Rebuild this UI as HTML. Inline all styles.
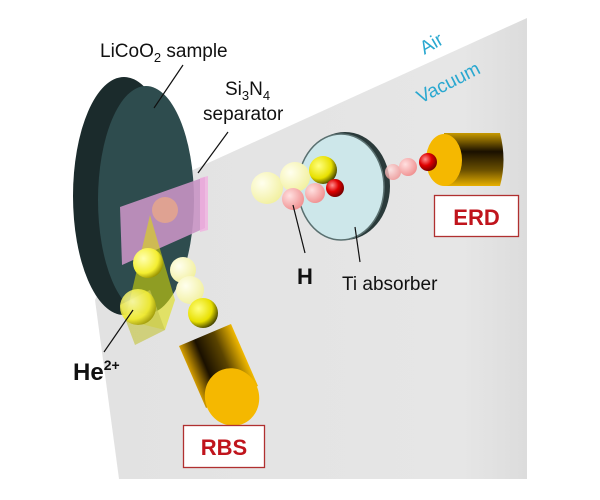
<!DOCTYPE html>
<html><head><meta charset="utf-8"><style>
html,body{margin:0;padding:0;background:#fff;}
svg{display:block;}
text{font-family:"Liberation Sans",sans-serif;}
</style></head><body>
<svg width="600" height="500" viewBox="0 0 600 500" xmlns="http://www.w3.org/2000/svg">
<defs>
<radialGradient id="py" cx="0.35" cy="0.35" r="0.7"><stop offset="0" stop-color="#ffffee"/><stop offset="1" stop-color="#f2f0a0"/></radialGradient>
<radialGradient id="yy" cx="0.35" cy="0.35" r="0.7"><stop offset="0" stop-color="#ffffb0"/><stop offset="0.7" stop-color="#f4ee30"/><stop offset="1" stop-color="#9a9400"/></radialGradient>
<radialGradient id="yd" cx="0.35" cy="0.35" r="0.75"><stop offset="0" stop-color="#ffff80"/><stop offset="0.6" stop-color="#e8e000"/><stop offset="1" stop-color="#222200"/></radialGradient>
<radialGradient id="pk" cx="0.35" cy="0.35" r="0.7"><stop offset="0" stop-color="#ffe0e0"/><stop offset="1" stop-color="#f09090"/></radialGradient>
<radialGradient id="rd" cx="0.35" cy="0.35" r="0.7"><stop offset="0" stop-color="#ff9090"/><stop offset="0.5" stop-color="#e00000"/><stop offset="1" stop-color="#700000"/></radialGradient>
<linearGradient id="cylE" x1="0" y1="0" x2="0" y2="1"><stop offset="0" stop-color="#c89a00"/><stop offset="0.35" stop-color="#1a1000"/><stop offset="0.7" stop-color="#6a5000"/><stop offset="1" stop-color="#e8b000"/></linearGradient>
<linearGradient id="cylR" gradientUnits="userSpaceOnUse" x1="179" y1="346" x2="231" y2="324"><stop offset="0" stop-color="#d8a000"/><stop offset="0.3" stop-color="#1a1000"/><stop offset="0.65" stop-color="#5a4300"/><stop offset="1" stop-color="#f0b800"/></linearGradient>
<linearGradient id="grey" x1="0" y1="0" x2="1" y2="0"><stop offset="0" stop-color="#e2e2e2"/><stop offset="0.85" stop-color="#e6e6e6"/><stop offset="1" stop-color="#dcdcdc"/></linearGradient>
</defs>
<polygon points="527,18 527,479 119,479 95,300 150,190 208,163" fill="url(#grey)"/>
<text x="431" y="50" font-size="19" fill="#2aa8d0" transform="rotate(-30 431 43)" text-anchor="middle">Air</text>
<text x="448" y="89" font-size="19" fill="#2aa8d0" transform="rotate(-27 448 82)" text-anchor="middle">Vacuum</text>
<!-- disc -->
<ellipse cx="124" cy="196" rx="51" ry="119" fill="#1b2b2c"/>
<ellipse cx="146" cy="200" rx="48" ry="114" fill="#2e4c4e"/>
<!-- separator -->
<polygon points="120,207 205,177 205,228 122,265" fill="#c894c4" opacity="0.9"/>
<polygon points="200,178 208,176 208,230 200,232" fill="#f0b0e0" opacity="0.8"/>
<circle cx="165" cy="210" r="13" fill="#e8a888" opacity="0.8"/>
<!-- He beam -->
<polygon points="150,215 125,320 165,330 175,300" fill="#e0e000" opacity="0.55"/>
<polygon points="120,305 150,290 165,330 135,345" fill="#c8c850" opacity="0.7"/>
<circle cx="148" cy="263" r="15" fill="url(#yy)"/>
<circle cx="138" cy="307" r="18" fill="url(#yy)" opacity="0.85"/>
<!-- RBS path -->
<circle cx="183" cy="270" r="13" fill="url(#py)"/>
<circle cx="190" cy="290" r="14" fill="url(#py)"/>
<circle cx="203" cy="313" r="15" fill="url(#yd)"/>
<!-- RBS cylinder -->
<polygon points="179,346 231,324 258,386 206,408" fill="url(#cylR)"/>
<ellipse cx="232" cy="397" rx="27" ry="29" fill="#f5b800" transform="rotate(-20 232 397)"/>
<!-- Ti absorber -->
<ellipse cx="345" cy="186" rx="45" ry="54" fill="#2a3a3a"/>
<ellipse cx="341" cy="187" rx="43" ry="53" fill="#cde7ea" stroke="#5a7070" stroke-width="1.5"/>
<!-- balls H -->
<circle cx="267" cy="188" r="16" fill="url(#py)"/>
<circle cx="295" cy="177" r="15" fill="url(#py)"/>
<circle cx="323" cy="170" r="14" fill="url(#yd)"/>
<circle cx="293" cy="199" r="11" fill="url(#pk)"/>
<circle cx="315" cy="193" r="10" fill="url(#pk)"/>
<circle cx="335" cy="188" r="9" fill="url(#rd)"/>
<circle cx="393" cy="172" r="8" fill="url(#pk)" opacity="0.8"/>
<circle cx="408" cy="167" r="9" fill="url(#pk)"/>
<!-- ERD cylinder -->
<path d="M444,133 L500,133 Q507,160 500,186 L444,186 Z" fill="url(#cylE)"/>
<ellipse cx="444" cy="160" rx="18" ry="26" fill="#f5b800"/>
<circle cx="428" cy="162" r="9" fill="url(#rd)"/>
<!-- labels -->
<text x="100" y="57" font-size="19" fill="#111">LiCoO<tspan font-size="13" dy="5">2</tspan><tspan dy="-5"> sample</tspan></text>
<line x1="183" y1="65" x2="154" y2="108" stroke="#111" stroke-width="1.2"/>
<text x="225" y="95" font-size="19" fill="#111">Si<tspan font-size="13" dy="5">3</tspan><tspan dy="-5">N</tspan><tspan font-size="13" dy="5">4</tspan></text>
<text x="203" y="120" font-size="19" fill="#111">separator</text>
<line x1="228" y1="132" x2="198" y2="173" stroke="#111" stroke-width="1.2"/>
<line x1="293" y1="205" x2="305" y2="253" stroke="#111" stroke-width="1.2"/>
<line x1="355" y1="227" x2="360" y2="262" stroke="#111" stroke-width="1.2"/>
<text x="297" y="284" font-size="22" font-weight="bold" fill="#111">H</text>
<text x="342" y="290" font-size="19" fill="#111">Ti absorber</text>
<line x1="133" y1="310" x2="104" y2="352" stroke="#111" stroke-width="1.2"/>
<text x="73" y="380" font-size="24" font-weight="bold" fill="#111">He<tspan font-size="14" dy="-10">2+</tspan></text>
<rect x="434.5" y="195.5" width="84" height="41" fill="#fff" stroke="#b03030" stroke-width="1.3"/>
<text x="476.5" y="225" font-size="22" font-weight="bold" fill="#c0141c" text-anchor="middle">ERD</text>
<rect x="183.5" y="425.5" width="81" height="42" fill="#fff" stroke="#b03030" stroke-width="1.3"/>
<text x="224" y="455" font-size="22" font-weight="bold" fill="#c0141c" text-anchor="middle">RBS</text>
</svg>
</body></html>
